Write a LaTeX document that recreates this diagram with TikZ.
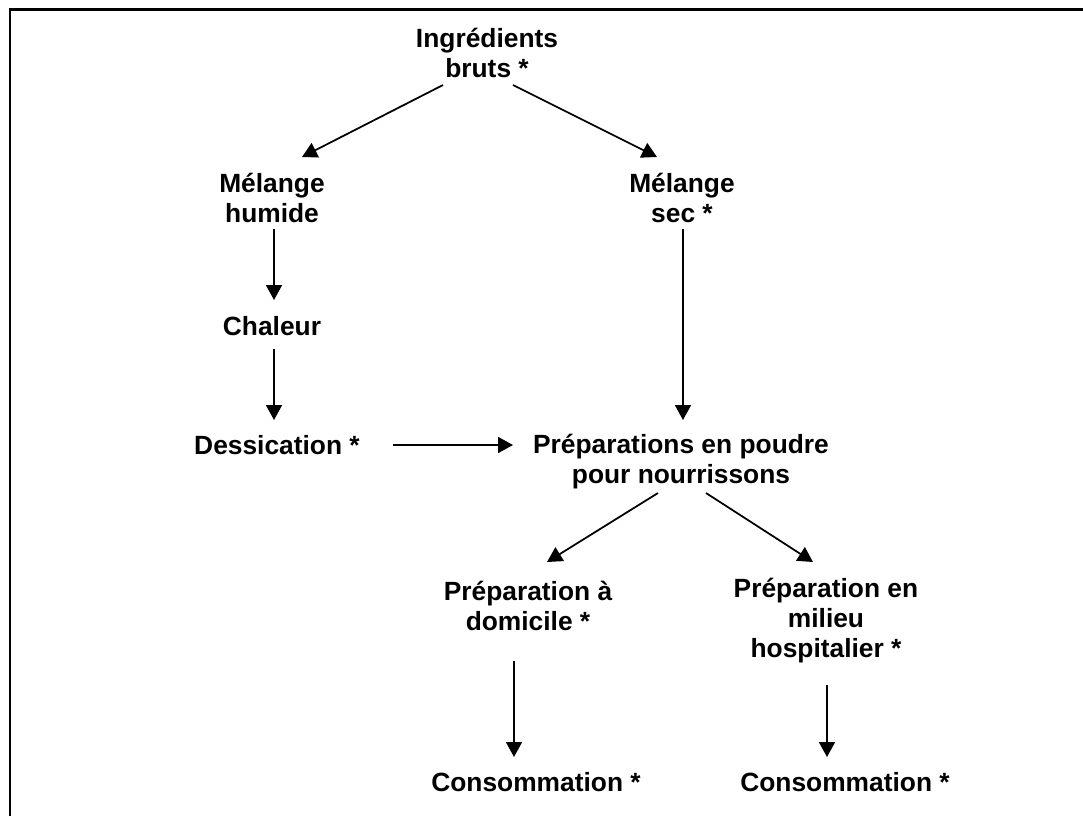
\documentclass[tikz,border=0pt]{standalone}
\usepackage{fontspec}
\setmainfont{Liberation Sans}
\usetikzlibrary{arrows.meta,calc}
\tikzset{
  etape/.style={font=\bfseries\fontsize{15}{17.1}\selectfont, align=center, inner sep=0pt},
  fleche/.style={line width=1pt, -{Triangle[length=0.3cm,width=0.32cm]}},
}
\begin{document}
\begin{tikzpicture}[x=0.02cm,y=-0.02cm]
    \useasboundingbox (0,0) rectangle (1083,816);
    \draw [line width=1.5pt] (10,816) -- (10,9.5) -- (1083,9.5);

    \node [etape] (ingr)     at (487,53)  {Ingrédients\\bruts *};
    \node [etape] (humide)   at (272,198) {Mélange\\humide};
    \node [etape] (sec)      at (682,198) {Mélange\\sec *};
    \node [etape] (chaleur)  at (272,326) {Chaleur};
    \node [etape] (dessic)   at (277,445) {Dessication *};
    \node [etape] (poudre)   at (681,462) {Préparations en poudre\\pour nourrissons};
    \node [etape] (domicile) at (528,606) {Préparation à\\domicile *};
    \node [etape] (hosp)     at (826,621) {Préparation en\\milieu\\hospitalier *};
    \node [etape] (conso1)   at (536,782) {Consommation *};
    \node [etape] (conso2)   at (845,782) {Consommation *};

    \foreach \a/\ax/\ay/\b/\bx/\by in {ingr/-44/32/humide/30/-41,
        ingr/26/32/sec/-25/-41,
        humide/2/31/chaleur/2/-26,
        chaleur/2/23/dessic/-3/-25,
        sec/1/31/poudre/2/-42,
        dessic/116/0/poudre/-168/-17,
        poudre/-23/31/domicile/19/-44,
        poudre/25/31/hosp/-13/-59,
        domicile/-14/55/conso1/-22/-25,
        hosp/1/64/conso2/-18/-25}
        {\draw [fleche] ($(\a)+(\ax,\ay)$) -- ($(\b)+(\bx,\by)$);}
\end{tikzpicture}
\end{document}
